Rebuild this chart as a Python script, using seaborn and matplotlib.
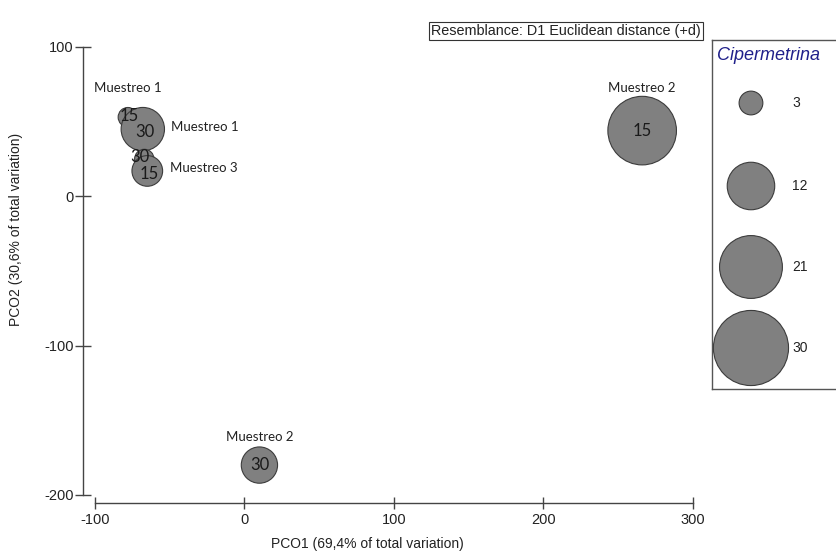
import matplotlib
matplotlib.use("Agg")
import matplotlib.pyplot as plt
import seaborn as sns
import pandas as pd
import numpy as np

# ---- data ----
pco1 = [-78, -68, -67, -65, 266, 10]
pco2 = [53, 45, 25, 17, 44, -180]
cipermetrina = [2, 10, 2, 5, 25, 7]
day_labels = ["15", "30", "30", "15", "15", "30"]
sample_labels = ["Muestreo 1", "Muestreo 1", "", "Muestreo 3", "Muestreo 2", "Muestreo 2"]
legend_values = [3, 12, 21, 30]
x_ticks = [-100, 0, 100, 200, 300]
y_ticks = [-200, -100, 0, 100]

# styling (offsets in pixels for sample labels)
label_offsets = [(0, 29, "center"), (28, 2, "left"), (0, 0, "left"), (23, 3, "left"), (0, 43, "center"), (0, 28, "center")]
day_offsets = [(1, 1), (2, -3), (-4, 2), (2, -3), (0, 0), (0, 0)]

df = pd.DataFrame({"PCO1": pco1, "PCO2": pco2, "Cipermetrina": cipermetrina})

sns.set_theme(style="white")
plt.rcParams["font.family"] = ["Liberation Sans", "DejaVu Sans"]
plt.rcParams["axes.unicode_minus"] = False

SMAX = 2925.0
size_norm = (0, 30)
fill = "#808080"
edge = "#3c3c3c"

fig = plt.figure(figsize=(8.36, 5.54), dpi=100)
W, H = 836, 554
ax = fig.add_axes([83 / W, 51 / H, (693 - 83) / W, (503 - 47) / H])

sns.scatterplot(data=df, x="PCO1", y="PCO2", size="Cipermetrina", sizes=(0, SMAX),
                size_norm=size_norm, color=fill, edgecolor=edge, linewidth=0.8,
                alpha=1, legend=False, ax=ax, clip_on=False, zorder=3)

for xi, yi, d, (dx, dy) in zip(pco1, pco2, day_labels, day_offsets):
    ax.annotate(d, (xi, yi), xytext=(dx, dy), textcoords="offset pixels",
                ha="center", va="center", fontsize=12, family="Lato",
                color="#1a1a1a", zorder=5)

for xi, yi, s, (dx, dy, ha) in zip(pco1, pco2, sample_labels, label_offsets):
    if s:
        ax.annotate(s, (xi, yi), xytext=(dx, dy), textcoords="offset pixels",
                    ha=ha, va="center", fontsize=9.5, family="Lato", color="#222222",
                    zorder=6)

ax.set_xlim(-108, 300)
ax.set_ylim(-205.4, 100)
ax.set_xticks(x_ticks)
ax.set_yticks(y_ticks)
for sp in ["top", "right"]:
    ax.spines[sp].set_visible(False)
ax.spines["left"].set_bounds(-200, 100)
ax.spines["bottom"].set_bounds(-100, 300)
for sp in ["left", "bottom"]:
    ax.spines[sp].set_color("#444444")
    ax.spines[sp].set_linewidth(1.0)
ax.tick_params(axis="y", left=True, direction="inout", length=11.5, width=1.0, color="#444444",
               pad=1, labelsize=10.5, labelcolor="#222222")
ax.tick_params(axis="x", bottom=True, direction="inout", length=8.6, width=1.0, color="#444444",
               pad=3, labelsize=10.5, labelcolor="#222222")
ax.set_xlabel("PCO1 (69,4% of total variation)", fontsize=10, color="#222222")
ax.set_ylabel("PCO2 (30,6% of total variation)", fontsize=10, color="#222222")
ax.xaxis.set_label_coords(0.466, -0.075)
ax.yaxis.set_label_coords(-0.098, 0.6)

# resemblance box
fig.text(566 / W, 1 - 31 / H, "Resemblance: D1 Euclidean distance (+d)", ha="center",
         va="center", fontsize=10.4, color="#222222",
         bbox=dict(boxstyle="square,pad=0.12", fc="white", ec="#333333", lw=0.8))

# legend as separate axes
lax = fig.add_axes([712 / W, (554 - 389) / H, (880 - 712) / W, (389 - 40) / H])
lax.set_xlim(0, 1)
lax.set_ylim(389, 40)
leg_y = [103, 186, 267, 348]
leg_df = pd.DataFrame({"x": [0.232] * 4, "y": leg_y, "v": legend_values})
sns.scatterplot(data=leg_df, x="x", y="y", size="v", sizes=(0, SMAX), size_norm=size_norm,
                color=fill, edgecolor=edge, linewidth=0.8, alpha=1, legend=False,
                ax=lax, clip_on=False)
for yy, v in zip(leg_y, legend_values):
    lax.text(0.476, yy, str(v), ha="left", va="center", fontsize=10, color="#222222")
lax.text(0.03, 55, "Cipermetrina", ha="left", va="center", fontsize=13, style="italic",
         color="#20208a")
lax.set_xticks([])
lax.set_yticks([])
lax.tick_params(left=False, bottom=False)
lax.set_xlabel("")
lax.set_ylabel("")
for sp in lax.spines.values():
    sp.set_color("#555555")
    sp.set_linewidth(1.0)
    sp.set_visible(True)

fig.savefig("out.png", dpi=100)
